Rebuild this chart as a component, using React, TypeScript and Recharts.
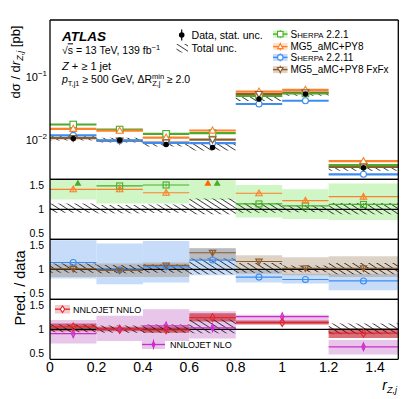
import React from 'react';
import {
  ComposedChart,
  XAxis,
  YAxis,
  ReferenceArea,
  ReferenceLine,
  Scatter,
  ErrorBar,
} from 'recharts';

// bins in r_Zj
const binLo = [0, 0.2, 0.4, 0.6, 0.8, 1.0, 1.2];
const binHi = [0.2, 0.4, 0.6, 0.8, 1.0, 1.2, 1.5];
const binMid = [0.1, 0.3, 0.5, 0.7, 0.9, 1.1, 1.35];
// NNLOJET merges 0.8-1.2
const nnBinLo = [0, 0.2, 0.4, 0.6, 0.8, 1.2];
const nnBinHi = [0.2, 0.4, 0.6, 0.8, 1.2, 1.5];
const nnBinMid = [0.1, 0.3, 0.5, 0.7, 1.0, 1.35];

// main panel, dsigma/dr [pb]
const dataXs = [0.0104, 0.0098, 0.00834, 0.00748, 0.0444, 0.0535, 0.00356];
const dataStatRel = [0.02, 0.02, 0.03, 0.04, 0.02, 0.02, 0.03];
const totUp = [1.12, 1.09, 1.1, 1.22, 1.13, 1.08, 1.13];
const totDown = [0.93, 0.92, 0.93, 0.9, 0.93, 0.94, 0.9];
const sherpa221Xs = [0.01745, 0.0145, 0.0124, 0.0127, 0.0497, 0.0545, 0.00393];
const mg5Xs = [0.0149, 0.0139, 0.0108, 0.014, 0.0585, 0.0624, 0.00454];
const sherpa2211Xs = [0.0117, 0.0097, 0.00884, 0.0088, 0.037, 0.0417, 0.0028];
const fxfxXs = [0.0106, 0.0096, 0.009, 0.01, 0.0533, 0.0565, 0.00369];

// ratio panel: Sherpa 2.2.1 / MG5
const sherpa221R = [1.68, 1.48, 1.5, 1.7, 1.11, 1.07, 1.1];
const sherpa221Err = [0.04, 0.03, 0.03, 0.05, 0.02, 0.02, 0.03];
const sherpa221Lo = [1.2, 1.12, 1.12, 1.19, 0.83, 0.8, 0.78];
const sherpa221Hi = [2.2, 1.9, 1.9, 2.2, 1.5, 1.41, 1.53];
const mg5R = [1.41, 1.41, 1.34, 1.87, 1.33, 1.18, 1.26];
const mg5Err = [0.06, 0.06, 0.06, 0.08, 0.03, 0.04, 0.06];

// ratio panel: Sherpa 2.2.11 / FxFx
const sherpa2211R = [1.14, 0.99, 1.05, 1.19, 0.84, 0.79, 0.76];
const sherpa2211Lo = [0.81, 0.69, 0.73, 0.88, 0.73, 0.71, 0.57];
const sherpa2211Hi = [1.6, 1.53, 1.58, 1.43, 0.98, 0.91, 0.91];
const fxfxR = [1.01, 0.975, 1.08, 1.34, 1.16, 1.02, 1.02];
const fxfxErr = [0.03, 0.03, 0.03, 0.05, 0.03, 0.03, 0.04];
const fxfxLo = [0.84, 0.84, 0.84, 1.19, 0.91, 0.88, 0.84];
const fxfxHi = [1.12, 1.12, 1.14, 1.44, 1.29, 1.25, 1.27];

// ratio panel: NNLOJET
const nnloR = [1.05, 1.0, 0.99, 1.24, 1.14, 0.92];
const nnloLo = [0.96, 0.96, 0.93, 1.16, 1.1, 0.82];
const nnloHi = [1.12, 1.05, 1.05, 1.33, 1.18, 1.02];
const nloR = [0.91, 1.0, 1.07, 1.03, 1.26, 0.64];
const nloLo = [0.71, 0.76, 0.76, 0.81, 1.11, 0.48];
const nloHi = [1.19, 1.28, 1.41, 1.37, 1.3, 0.78];
const nnTotUp = [1.1, 1.08, 1.1, 1.2, null, 1.12];
const nnTotDown = [0.94, 0.93, 0.93, 0.92, null, 0.9];

// ticks
const xMajor = [0, 0.2, 0.4, 0.6, 0.8, 1, 1.2, 1.4];
const xMinor = [0.05, 0.1, 0.15, 0.25, 0.3, 0.35, 0.45, 0.5, 0.55, 0.65, 0.7, 0.75, 0.85, 0.9, 0.95, 1.05, 1.1, 1.15, 1.25, 1.3, 1.35, 1.45];
const mainMajor = [0.01, 0.1];
const mainMinor = [0.003, 0.004, 0.005, 0.006, 0.007, 0.008, 0.009, 0.02, 0.03, 0.04, 0.05, 0.06, 0.07, 0.08, 0.09, 0.2, 0.3, 0.4, 0.5, 0.6, 0.7, 0.8];
const ratioMajor = [0.5, 1, 1.5];
const ratioMinor = [0.4, 0.6, 0.7, 0.8, 0.9, 1.1, 1.2, 1.3, 1.4, 1.6];

const W = 415;
const H = 399;
const THIN = 0.01; // axes need a non-zero size to be drawn
const FONT = '"Liberation Sans", Arial, Helvetica, sans-serif';
const X_DOMAIN: [number, number] = [0, 1.5];
const MAIN_DOMAIN: [number, number] = [0.00233, 0.81];
const RATIO_DOMAIN: [number, number] = [0.383, 1.617];
const ARROW_Y = 1.54;

const C = {
  green: '#4dab2c',
  greenBand: '#cff6c4',
  orange: '#ff7f2a',
  orangeArrow: '#ff6400',
  blue: '#3c8cf2',
  blueBand: '#c6dcf9',
  brown: '#8d5b2c',
  brownBand: '#9e7e5c',
  red: '#e3262e',
  redBand: '#cc3340',
  magenta: '#cc2ccc',
  magentaBand: '#e7c6e9',
};

const abs: React.CSSProperties = { position: 'absolute', left: 0, top: 0 };

function frameAxes(domain: [number, number], log: boolean, yMajor: number[], yMinor: number[], xLen: number) {
  const scale = log ? 'log' : 'linear';
  const axisLine = { stroke: '#000', strokeWidth: 1.3 };
  const tickLine = { stroke: '#000', strokeWidth: 1 };
  const out: React.ReactElement[] = [];
  (['bottom', 'top'] as const).forEach((o) => {
    out.push(
      <XAxis key={o + 'M'} xAxisId={o + 'M'} orientation={o} mirror type="number" domain={X_DOMAIN}
        allowDataOverflow ticks={xMajor} interval={0} tick={false} tickSize={xLen} height={THIN}
        axisLine={axisLine} tickLine={tickLine} />,
      <XAxis key={o + 'm'} xAxisId={o + 'm'} orientation={o} mirror type="number" domain={X_DOMAIN}
        allowDataOverflow ticks={xMinor} interval={0} tick={false} tickSize={xLen / 2} height={THIN}
        axisLine={false} tickLine={tickLine} />
    );
  });
  (['left', 'right'] as const).forEach((o) => {
    out.push(
      <YAxis key={o + 'M'} yAxisId={o + 'M'} orientation={o} mirror type="number" scale={scale} domain={domain}
        allowDataOverflow ticks={yMajor} interval={0} tick={false} tickSize={8} width={THIN}
        axisLine={axisLine} tickLine={tickLine} />,
      <YAxis key={o + 'm'} yAxisId={o + 'm'} orientation={o} mirror type="number" scale={scale} domain={domain}
        allowDataOverflow ticks={yMinor} interval={0} tick={false} tickSize={4} width={THIN}
        axisLine={false} tickLine={tickLine} />
    );
  });
  return out;
}

function bands(lo: number[], hi: number[], yLo: (number | null)[], yHi: (number | null)[], fill: string, opacity: number, key: string) {
  return yLo.map((l, i) =>
    l == null || yHi[i] == null ? null : (
      <ReferenceArea key={key + i} x1={lo[i]} x2={hi[i]} y1={l} y2={yHi[i] as number}
        fill={fill} fillOpacity={opacity} stroke="none" ifOverflow="hidden" />
    )
  );
}

function binLines(lo: number[], hi: number[], vals: number[], color: string, width: number, key: string, domain: [number, number]) {
  return vals.map((v, i) =>
    v < domain[0] || v > domain[1] ? null : (
      <ReferenceLine key={key + i} segment={[{ x: lo[i], y: v }, { x: hi[i], y: v }]}
        stroke={color} strokeWidth={width} />
    )
  );
}

function points(xs: number[], ys: number[], errs: number[] | null, max: number) {
  return ys
    .map((y, i) => ({ x: xs[i], y, err: errs ? errs[i] : 0 }))
    .filter((p) => p.y <= max);
}

function arrows(xs: number[], ys: number[], max: number, offset: number) {
  return ys
    .map((y, i) => ({ x: xs[i] + offset, y: ARROW_Y, over: y > max }))
    .filter((p) => p.over);
}

function shape(kind: string, color: string, size: number, fill: string) {
  return (p: any) => {
    const { cx, cy } = p;
    if (cx == null || cy == null || isNaN(cx) || isNaN(cy)) return <g />;
    const r = size / 2;
    const st = { stroke: color, strokeWidth: 1.1, fill };
    switch (kind) {
      case 'square':
        return <rect x={cx - r} y={cy - r} width={size} height={size} {...st} />;
      case 'circle':
        return <circle cx={cx} cy={cy} r={r} {...st} />;
      case 'triUp':
        return <polygon points={`${cx},${cy - r} ${cx + r},${cy + r * 0.75} ${cx - r},${cy + r * 0.75}`} {...st} />;
      case 'triDown':
        return <polygon points={`${cx},${cy + r} ${cx + r},${cy - r * 0.75} ${cx - r},${cy - r * 0.75}`} {...st} />;
      case 'diamond':
        return <polygon points={`${cx},${cy - r * 1.2} ${cx + r * 0.8},${cy} ${cx},${cy + r * 1.2} ${cx - r * 0.8},${cy}`} {...st} />;
      case 'thin':
        return <polygon points={`${cx},${cy - r * 1.2} ${cx + r * 0.55},${cy} ${cx},${cy + r * 1.2} ${cx - r * 0.55},${cy}`} {...st} />;
      case 'arrow':
        return <polygon points={`${cx},${cy - r} ${cx + r},${cy + r * 0.8} ${cx - r},${cy + r * 0.8}`} fill={color} stroke="none" />;
      default:
        return <circle cx={cx} cy={cy} r={r} fill={color} stroke="none" />;
    }
  };
}

const LogTick = (props: any) => {
  const { x, y, payload } = props;
  const exp = Math.round(Math.log10(payload.value));
  return (
    <text x={x} y={y + 4} textAnchor="end" fontFamily={FONT} fontSize={11} fill="#000">
      10<tspan dy={-5} fontSize={8}>{'\u2212' + Math.abs(exp)}</tspan>
    </text>
  );
};

const hatch = (id: string) => (
  <defs>
    <pattern id={id} patternUnits="userSpaceOnUse" width={8} height={4.4} patternTransform="rotate(33)">
      <line x1={0} y1={2.2} x2={8} y2={2.2} stroke="#1a1a1a" strokeWidth={0.8} />
    </pattern>
  </defs>
);

function margin(top: number, bottom: number) {
  return { top, bottom: H - bottom, left: 50, right: 16.7 };
}

const ratioLabelAxis = (
  <YAxis type="number" dataKey="y" domain={RATIO_DOMAIN} allowDataOverflow width={THIN} ticks={ratioMajor}
    interval={0} tickLine={false} axisLine={false} tickSize={0} tickMargin={6}
    tick={{ fontSize: 10.5, fill: '#000', fontFamily: FONT }} />
);

const MainPanel = () => (
  <ComposedChart width={W} height={H} margin={margin(20, 179.3)}>
    {hatch('hatchMain')}
    <XAxis type="number" dataKey="x" domain={X_DOMAIN} allowDataOverflow hide />
    <YAxis type="number" dataKey="y" scale="log" domain={MAIN_DOMAIN} allowDataOverflow width={THIN}
      ticks={mainMajor} interval={0} tickLine={false} axisLine={false} tickSize={0} tickMargin={3}
      tick={<LogTick />} />
    {frameAxes(MAIN_DOMAIN, true, mainMajor, mainMinor, 8)}
    {bands(binLo, binHi, dataXs.map((d, i) => d * totDown[i]), dataXs.map((d, i) => d * totUp[i]), 'url(#hatchMain)', 1, 'th')}
    {binLines(binLo, binHi, fxfxXs, C.brown, 2.2, 'fx', MAIN_DOMAIN)}
    {binLines(binLo, binHi, sherpa2211Xs, C.blue, 2.2, 's11', MAIN_DOMAIN)}
    {binLines(binLo, binHi, sherpa221Xs, C.green, 2.2, 's1', MAIN_DOMAIN)}
    {binLines(binLo, binHi, mg5Xs, C.orange, 2.2, 'mg', MAIN_DOMAIN)}
    <Scatter data={points(binMid, sherpa221Xs, null, 1)} shape={shape('square', C.green, 6.5, '#fff')} isAnimationActive={false} />
    <Scatter data={points(binMid, mg5Xs, null, 1)} shape={shape('triUp', C.orange, 7, '#fff')} isAnimationActive={false} />
    <Scatter data={points(binMid, sherpa2211Xs, null, 1)} shape={shape('circle', C.blue, 6, '#fff')} isAnimationActive={false} />
    <Scatter data={points(binMid, fxfxXs, null, 1)} shape={shape('triDown', C.brown, 7, '#fff')} isAnimationActive={false} />
    <Scatter data={points(binMid, dataXs, dataXs.map((d, i) => d * dataStatRel[i]), 1)} shape={shape('dot', '#000', 5.5, '#000')} isAnimationActive={false}>
      <ErrorBar dataKey="err" direction="y" width={0} stroke="#000" strokeWidth={1.2} />
    </Scatter>
  </ComposedChart>
);

const RatioPanel1 = () => (
  <ComposedChart width={W} height={H} margin={margin(179.3, 239.3)}>
    {hatch('hatchR1')}
    <XAxis type="number" dataKey="x" domain={X_DOMAIN} allowDataOverflow hide />
    {ratioLabelAxis}
    {frameAxes(RATIO_DOMAIN, false, ratioMajor, ratioMinor, 7)}
    {bands(binLo, binHi, sherpa221Lo, sherpa221Hi, C.greenBand, 1, 'gb')}
    {bands(binLo, binHi, totDown, totUp, 'url(#hatchR1)', 1, 'th')}
    <ReferenceLine y={1} stroke="#000" strokeWidth={1.2} />
    {binLines(binLo, binHi, sherpa221R, C.green, 1.2, 's1', RATIO_DOMAIN)}
    {binLines(binLo, binHi, mg5R, C.orange, 1.2, 'mg', RATIO_DOMAIN)}
    <Scatter data={points(binMid, sherpa221R, sherpa221Err, RATIO_DOMAIN[1])} shape={shape('square', C.green, 6, 'none')} isAnimationActive={false}>
      <ErrorBar dataKey="err" direction="y" width={0} stroke={C.green} strokeWidth={1} />
    </Scatter>
    <Scatter data={points(binMid, mg5R, mg5Err, RATIO_DOMAIN[1])} shape={shape('triUp', C.orange, 6.5, 'none')} isAnimationActive={false}>
      <ErrorBar dataKey="err" direction="y" width={0} stroke={C.orange} strokeWidth={1} />
    </Scatter>
    <Scatter data={arrows(binMid, sherpa221R, RATIO_DOMAIN[1], 0.02)} shape={shape('arrow', C.green, 7, C.green)} isAnimationActive={false} />
    <Scatter data={arrows(binMid, mg5R, RATIO_DOMAIN[1], -0.02)} shape={shape('arrow', C.orangeArrow, 7, C.orangeArrow)} isAnimationActive={false} />
  </ComposedChart>
);

const RatioPanel2 = () => (
  <ComposedChart width={W} height={H} margin={margin(239.3, 299.3)}>
    {hatch('hatchR2')}
    <XAxis type="number" dataKey="x" domain={X_DOMAIN} allowDataOverflow hide />
    {ratioLabelAxis}
    {frameAxes(RATIO_DOMAIN, false, ratioMajor, ratioMinor, 7)}
    {bands(binLo, binHi, sherpa2211Lo, sherpa2211Hi, C.blueBand, 1, 'bb')}
    {bands(binLo, binHi, fxfxLo, fxfxHi, C.brownBand, 0.35, 'fb')}
    {bands(binLo, binHi, totDown, totUp, 'url(#hatchR2)', 1, 'th')}
    <ReferenceLine y={1} stroke="#000" strokeWidth={1.2} />
    {binLines(binLo, binHi, sherpa2211R, C.blue, 1.2, 's11', RATIO_DOMAIN)}
    {binLines(binLo, binHi, fxfxR, C.brown, 1.2, 'fx', RATIO_DOMAIN)}
    <Scatter data={points(binMid, sherpa2211R, null, RATIO_DOMAIN[1])} shape={shape('circle', C.blue, 6, 'none')} isAnimationActive={false} />
    <Scatter data={points(binMid, fxfxR, fxfxErr, RATIO_DOMAIN[1])} shape={shape('triDown', C.brown, 6.5, 'none')} isAnimationActive={false}>
      <ErrorBar dataKey="err" direction="y" width={0} stroke={C.brown} strokeWidth={1} />
    </Scatter>
  </ComposedChart>
);

const RatioPanel3 = () => (
  <ComposedChart width={W} height={H} margin={margin(299.3, 359.3)}>
    {hatch('hatchR3')}
    <XAxis type="number" dataKey="x" domain={X_DOMAIN} allowDataOverflow ticks={xMajor} interval={0}
      tickLine={false} axisLine={false} tickSize={0} tickMargin={3} height={THIN}
      tick={{ fontSize: 14, fill: '#000', fontFamily: FONT }} />
    {ratioLabelAxis}
    {frameAxes(RATIO_DOMAIN, false, ratioMajor, ratioMinor, 7)}
    {bands(nnBinLo, nnBinHi, nloLo, nloHi, C.magentaBand, 1, 'nb')}
    {bands(nnBinLo, nnBinHi, nnloLo, nnloHi, C.redBand, 0.7, 'rb')}
    {bands(nnBinLo, nnBinHi, nnTotDown, nnTotUp, 'url(#hatchR3)', 1, 'th')}
    <ReferenceLine y={1} stroke="#000" strokeWidth={1.2} />
    {binLines(nnBinLo, nnBinHi, nloR, C.magenta, 1.2, 'nlo', RATIO_DOMAIN)}
    {binLines(nnBinLo, nnBinHi, nnloR, C.red, 1.2, 'nnlo', RATIO_DOMAIN)}
    <Scatter data={points(nnBinMid, nloR, nloR.map(() => 0.04), RATIO_DOMAIN[1])} shape={shape('thin', C.magenta, 6.5, 'none')} isAnimationActive={false}>
      <ErrorBar dataKey="err" direction="y" width={0} stroke={C.magenta} strokeWidth={1} />
    </Scatter>
    <Scatter data={points(nnBinMid, nnloR, null, RATIO_DOMAIN[1])} shape={shape('diamond', C.red, 6.5, 'none')} isAnimationActive={false} />
  </ComposedChart>
);

const Labels = () => (
  <svg width={W} height={H} style={{ ...abs, pointerEvents: 'none' }} fontFamily={FONT}>
    {hatch('hatchLeg')}
    {/* axis titles */}
    <text transform="translate(19.5,62) rotate(-90)" textAnchor="middle" fontSize={13}>
      d{'\u03c3'} / d<tspan fontStyle="italic">r</tspan>
      <tspan fontSize={9} dy={3} fontStyle="italic">Z,j</tspan>
      <tspan dy={-3}> [pb]</tspan>
    </text>
    <text transform="translate(25,288) rotate(-90)" textAnchor="middle" fontSize={14.5}>Pred. / data</text>
    <text x={397} y={390} textAnchor="end" fontSize={14}>
      <tspan fontStyle="italic">r</tspan>
      <tspan fontSize={9} dy={3} fontStyle="italic">Z,j</tspan>
    </text>

    {/* ATLAS label */}
    <text x={62} y={40.7} fontSize={13.5} fontWeight="bold" fontStyle="italic">ATLAS</text>
    <text x={62} y={54.3} fontSize={10.5}>
      {'\u221a'}<tspan textDecoration="overline">s</tspan> = 13 TeV, 139 fb<tspan dy={-4} fontSize={7.5}>{'\u22121'}</tspan>
    </text>
    <text x={62} y={70} fontSize={11}>
      <tspan fontStyle="italic">Z</tspan> + {'\u2265'} 1 jet
    </text>
    <text x={62} y={83.3} fontSize={10.5}>
      <tspan fontStyle="italic">p</tspan>
      <tspan fontSize={7.5} dy={2.5}>T,j1</tspan>
      <tspan dy={-2.5}> {'\u2265'} 500 GeV, {'\u0394'}R</tspan>
      <tspan fontSize={7.5} dy={-4}>min</tspan>
      <tspan fontSize={7.5} dx={-12} dy={7}>Z,j</tspan>
      <tspan dx={3.5} dy={-3}> {'\u2265'} 2.0</tspan>
    </text>

    {/* data legend */}
    <line x1={181.7} y1={29.5} x2={181.7} y2={40.5} stroke="#000" strokeWidth={1.2} />
    <circle cx={181.7} cy={35} r={2.8} fill="#000" />
    <text x={191.5} y={39} fontSize={10.6}>Data, stat. unc.</text>
    <rect x={176.5} y={44} width={11.5} height={8.5} fill="url(#hatchLeg)" />
    <text x={191.5} y={51.7} fontSize={10.6}>Total unc.</text>

    {/* MC legend */}
    {[
      { c: C.green, b: C.greenBand, y: 34.1, k: 'square' },
      { c: C.orange, b: '#ffe0c8', y: 46.6, k: 'triUp' },
      { c: C.blue, b: C.blueBand, y: 57.4, k: 'circle' },
      { c: C.brown, b: '#e0d4c6', y: 69.6, k: 'triDown' },
    ].map((e, i) => (
      <g key={i}>
        <rect x={273} y={e.y - 3.5} width={14.5} height={7} fill={e.b} />
        <line x1={273} y1={e.y} x2={287.5} y2={e.y} stroke={e.c} strokeWidth={1.4} />
        <line x1={280.3} y1={e.y - 4} x2={280.3} y2={e.y + 4} stroke={e.c} strokeWidth={1} />
        {shape(e.k, e.c, 5.5, '#fff')({ cx: 280.3, cy: e.y })}
      </g>
    ))}
    <text x={290.5} y={37.7} fontSize={10}>S<tspan fontSize={7.8}>HERPA</tspan> 2.2.1</text>
    <text x={290.5} y={50.2} fontSize={10}>MG5_aMC+PY8</text>
    <text x={290.5} y={61} fontSize={10}>S<tspan fontSize={7.8}>HERPA</tspan> 2.2.11</text>
    <text x={290.5} y={73.2} fontSize={10}>MG5_aMC+PY8 FxFx</text>

    {/* NNLOJET legends */}
    <rect x={55} y={305} width={15} height={8.5} fill="#f3c9cc" />
    <line x1={55} y1={309.2} x2={70} y2={309.2} stroke={C.red} strokeWidth={1.3} />
    {shape('diamond', C.red, 5.5, '#fff')({ cx: 62.5, cy: 309.2 })}
    <text x={73} y={312.5} fontSize={9}>NNLOJET NNLO</text>
    <rect x={142} y={340} width={23} height={9} fill={C.magentaBand} />
    <line x1={142} y1={344.5} x2={165} y2={344.5} stroke={C.magenta} strokeWidth={1.3} />
    <line x1={153.5} y1={339.5} x2={153.5} y2={349.5} stroke={C.magenta} strokeWidth={1} />
    {shape('thin', C.magenta, 5.5, 'none')({ cx: 153.5, cy: 344.5 })}
    <text x={170} y={347.7} fontSize={9}>NNLOJET NLO</text>
  </svg>
);

export default function App() {
  return (
    <div style={{ ...abs, width: W, height: H, background: '#fff', fontFamily: FONT }}>
      <div style={abs}><MainPanel /></div>
      <div style={abs}><RatioPanel1 /></div>
      <div style={abs}><RatioPanel2 /></div>
      <div style={abs}><RatioPanel3 /></div>
      <Labels />
    </div>
  );
}
